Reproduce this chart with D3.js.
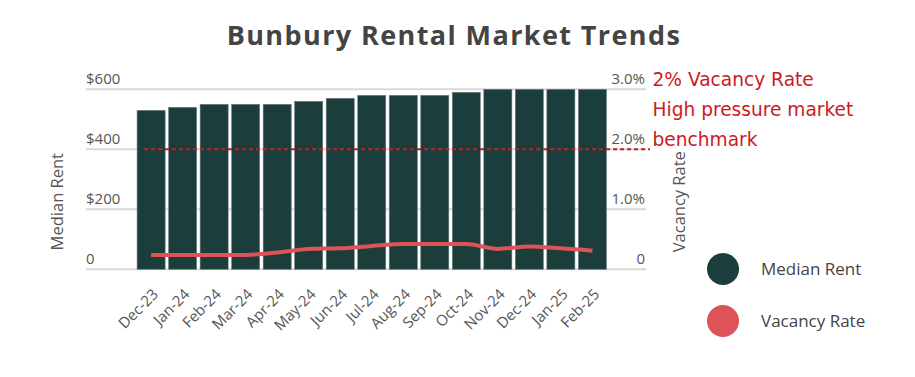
<!DOCTYPE html>
<html>
<head>
<meta charset="utf-8">
<script src="https://cdn.jsdelivr.net/npm/d3@7"></script>
<style>
  html, body { margin: 0; padding: 0; background: #fff; }
  svg { display: block; font-family: "Open Sans", sans-serif; }
</style>
</head>
<body>
<div id="container"></div>
<script>
const width = 915;
const height = 377;

const months = ["Dec-23", "Jan-24", "Feb-24", "Mar-24", "Apr-24", "May-24", "Jun-24", "Jul-24",
  "Aug-24", "Sep-24", "Oct-24", "Nov-24", "Dec-24", "Jan-25", "Feb-25"];
const medianRent = [530, 540, 550, 550, 550, 560, 570, 580, 580, 580, 590, 600, 600, 600, 600];
const vacancyRate = [0.24, 0.24, 0.24, 0.24, 0.28, 0.34, 0.35, 0.39, 0.42, 0.42, 0.42, 0.34, 0.38, 0.35, 0.31];
const rentTicks = [0, 200, 400, 600];
const rateTicks = [0, 1, 2, 3];
const benchmark = 2;
const noteLines = ["2% Vacancy Rate", "High pressure market", "benchmark"];
const legendItems = ["Median Rent", "Vacancy Rate"];

const barColor = "#1b3e3c";
const lineColor = "#dd5357";
const noteColor = "#cc1a1f";
const textColor = "#555";

const gridLeft = 86, gridRight = 646;

const x = d3.scaleBand()
  .domain(months)
  .range([135.5, 608])
  .paddingInner(0.11)
  .paddingOuter(0.05);

const yRent = d3.scaleLinear().domain([0, 600]).range([269.3, 89.3]);
const yRate = d3.scaleLinear().domain([0, 3]).range([269.3, 89.3]);

const svg = d3.create("svg")
  .attr("width", width)
  .attr("height", height)
  .attr("viewBox", [0, 0, width, height]);

// title
svg.append("text")
  .attr("x", 454)
  .attr("y", 45)
  .attr("text-anchor", "middle")
  .attr("font-size", 27)
  .attr("font-weight", 700)
  .attr("letter-spacing", 1.4)
  .attr("fill", "#444")
  .text("Bunbury Rental Market Trends");

// gridlines
svg.append("g")
  .selectAll("line")
  .data(rentTicks)
  .join("line")
    .attr("x1", gridLeft)
    .attr("x2", gridRight)
    .attr("y1", d => yRent(d))
    .attr("y2", d => yRent(d))
    .attr("stroke", "#d9d9d9")
    .attr("stroke-width", 2);

// left tick labels
svg.append("g")
  .selectAll("text")
  .data(rentTicks)
  .join("text")
    .attr("x", gridLeft)
    .attr("y", d => yRent(d) - 5)
    .attr("font-size", 15)
    .attr("fill", textColor)
    .text(d => d === 0 ? "0" : "$" + d);

// right tick labels
svg.append("g")
  .selectAll("text")
  .data(rateTicks)
  .join("text")
    .attr("x", gridRight - 1)
    .attr("y", d => yRate(d) - 5)
    .attr("text-anchor", "end")
    .attr("font-size", 15)
    .attr("fill", textColor)
    .text(d => d === 0 ? "0" : d.toFixed(1) + "%");

// axis titles
svg.append("text")
  .attr("transform", `translate(63,201.7) rotate(-90)`)
  .attr("text-anchor", "middle")
  .attr("font-size", 16.5)
  .attr("fill", textColor)
  .text("Median Rent");

svg.append("text")
  .attr("transform", `translate(685,201.7) rotate(-90)`)
  .attr("text-anchor", "middle")
  .attr("font-size", 16.5)
  .attr("fill", textColor)
  .text("Vacancy Rate");

// bars
svg.append("g")
  .selectAll("rect")
  .data(months)
  .join("rect")
    .attr("x", (d, i) => x(d))
    .attr("y", (d, i) => yRent(medianRent[i]))
    .attr("width", x.bandwidth())
    .attr("height", (d, i) => yRent(0) - yRent(medianRent[i]))
    .attr("fill", barColor)
    .attr("stroke", "#6d7f7d")
    .attr("stroke-width", 0.6);

// benchmark line
svg.append("line")
  .attr("x1", x(months[0]) + 7)
  .attr("x2", gridRight + 4)
  .attr("y1", yRate(benchmark))
  .attr("y2", yRate(benchmark))
  .attr("stroke", noteColor)
  .attr("stroke-width", 2)
  .attr("stroke-dasharray", "4,3");

// vacancy line
const line = d3.line()
  .x((d, i) => x(months[i]) + x.bandwidth() / 2)
  .y(d => yRate(d))
  .curve(d3.curveMonotoneX);

svg.append("path")
  .datum(vacancyRate)
  .attr("fill", "none")
  .attr("stroke", lineColor)
  .attr("stroke-width", 4)
  .attr("d", line);

// x labels
svg.append("g")
  .selectAll("text")
  .data(months)
  .join("text")
    .attr("transform", d => `translate(${x(d) + x.bandwidth() / 2 + 8},${yRent(0) + 26}) rotate(-45)`)
    .attr("text-anchor", "end")
    .attr("font-size", 15)
    .attr("fill", textColor)
    .text(d => d);

// annotation
svg.append("g")
  .selectAll("text")
  .data(noteLines)
  .join("text")
    .attr("x", 652.5)
    .attr("y", (d, i) => 86 + i * 30)
    .attr("font-family", "DejaVu Sans, sans-serif")
    .attr("font-size", 18.6)
    .attr("fill", noteColor)
    .text(d => d);

// legend
const legend = svg.append("g")
  .selectAll("g")
  .data(legendItems)
  .join("g")
    .attr("transform", (d, i) => `translate(723,${269 + i * 52})`);

legend.append("circle")
  .attr("r", 16)
  .attr("fill", (d, i) => i === 0 ? barColor : lineColor);

legend.append("text")
  .attr("x", 38)
  .attr("y", 0)
  .attr("dy", "0.35em")
  .attr("font-size", 17)
  .attr("fill", "#444")
  .text(d => d);

document.getElementById("container").appendChild(svg.node());
</script>
</body>
</html>
